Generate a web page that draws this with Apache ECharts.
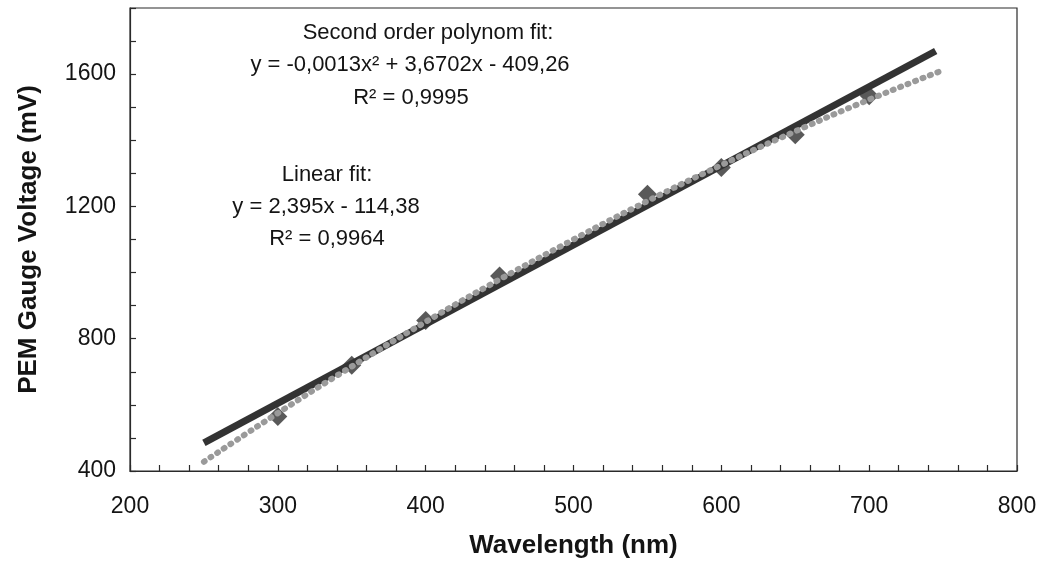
<!DOCTYPE html>
<html>
<head>
<meta charset="utf-8">
<script src="https://cdn.jsdelivr.net/npm/echarts@6/dist/echarts.min.js"></script>
<style>
  html, body { margin: 0; padding: 0; background: #fff; }
  #chart { width: 1053px; height: 573px; }
</style>
</head>
<body>
<div id="chart"></div>
<script>
// Measured data points (wavelength nm, voltage mV)
const wavelengths = [300, 350, 400, 450, 550, 600, 650, 700];
const voltages = [565, 720, 855, 990, 1237, 1318, 1417, 1535];

// Linear trendline endpoints
const linearX = [250, 745];
const linearY = [485, 1670];

// Second order trendline
const polyX = [250, 300, 350, 400, 450, 500, 550, 600, 650, 700, 750];
const polyY = [428, 575, 716, 851, 979, 1100, 1216, 1325, 1427, 1523, 1612];

// Axis ticks
const xLabels = [200, 300, 400, 500, 600, 700, 800];
const yLabels = [400, 800, 1200, 1600];

// Annotation texts
const annoPoly = ['Second order polynom fit:', 'y = -0,0013x² + 3,6702x - 409,26', 'R² = 0,9995'];
const annoLin = ['Linear fit:', 'y = 2,395x - 114,38', 'R² = 0,9964'];

const FONT = "'Liberation Sans', Arial, Helvetica, sans-serif";
const INK = '#141414';

const chart = echarts.init(document.getElementById('chart'), null, { renderer: 'canvas' });

const zip = (xs, ys) => xs.map((x, i) => [x, ys[i]]);

const annoPos = [
  [428, 33], [410, 65], [411, 98],
  [327, 175], [326, 207], [327, 239]
];
const annoTexts = annoPoly.concat(annoLin);

const option = {
  backgroundColor: '#ffffff',
  animation: false,
  grid: {
    left: 130, right: 36, top: 8, bottom: 102,
    show: true, borderColor: '#2a2a2a', borderWidth: 1.2, containLabel: false
  },
  xAxis: {
    type: 'value', min: 200, max: 800, interval: 20,
    name: 'Wavelength (nm)', nameLocation: 'middle', nameGap: 62,
    nameTextStyle: { fontFamily: FONT, fontSize: 26, fontWeight: 'bold', color: INK },
    axisLine: { show: true, lineStyle: { color: '#2a2a2a', width: 1.2 } },
    axisTick: { show: true, inside: true, length: 6, lineStyle: { color: '#2a2a2a', width: 1.2 } },
    splitLine: { show: false },
    axisLabel: {
      margin: 24, fontFamily: FONT, fontSize: 23, color: INK,
      formatter: v => (xLabels.indexOf(v) >= 0 ? String(v) : '')
    }
  },
  yAxis: {
    type: 'value', min: 400, max: 1800, interval: 100,
    name: 'PEM Gauge Voltage (mV)', nameLocation: 'middle', nameGap: 88,
    nameTextStyle: { fontFamily: FONT, fontSize: 26, fontWeight: 'bold', color: INK },
    axisLine: { show: true, lineStyle: { color: '#2a2a2a', width: 1.2 } },
    axisTick: { show: true, inside: true, length: 6, lineStyle: { color: '#2a2a2a', width: 1.2 } },
    splitLine: { show: false },
    axisLabel: {
      margin: 14, fontFamily: FONT, fontSize: 23, color: INK,
      formatter: v => (yLabels.indexOf(v) >= 0 ? String(v) : '')
    }
  },
  series: [
    {
      name: 'Measured', type: 'scatter', z: 2,
      symbol: 'diamond', symbolSize: 19,
      itemStyle: { color: '#303030' },
      data: zip(wavelengths, voltages)
    },
    {
      name: 'Linear fit', type: 'line', z: 3,
      symbol: 'none',
      lineStyle: { color: '#333', width: 7, cap: 'butt' },
      data: zip(linearX, linearY)
    },
    {
      name: 'Polynomial fit', type: 'line', z: 4,
      symbol: 'none', smooth: true,
      lineStyle: { color: '#9a9a9a', width: 6, type: [1, 7], cap: 'round' },
      data: zip(polyX, polyY)
    }
  ],
  graphic: annoTexts.map((t, i) => ({
    type: 'text',
    x: annoPos[i][0], y: annoPos[i][1],
    style: {
      text: t, fontFamily: FONT, fontSize: 22, fill: INK,
      textAlign: 'center', textVerticalAlign: 'middle'
    },
    z: 10
  }))
};

chart.setOption(option);
</script>
</body>
</html>
